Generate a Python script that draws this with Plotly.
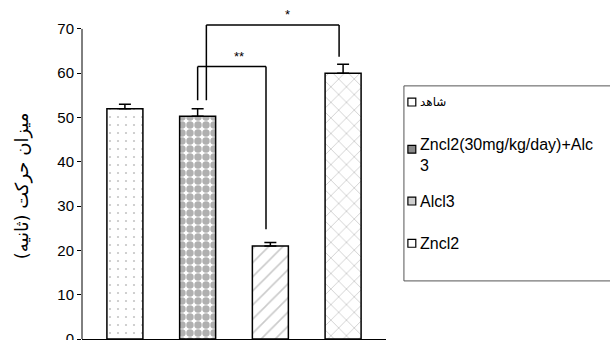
import plotly.graph_objects as go

# Groups, mean movement time (s) and upper error
groups = ["شاهد", "Zncl2(30mg/kg/day)+Alcl3", "Alcl3", "Zncl2"]
means = [52.0, 50.3, 21.0, 60.0]
errors = [1.0, 1.7, 0.8, 2.0]
y_ticks = [0, 10, 20, 30, 40, 50, 60, 70]
y_title = "میزان حرکت (ثانیه)"
legend_labels = ["شاهد", "Zncl2(30mg/kg/day)+Alc<br>3", "Alcl3", "Zncl2"]

# Significance brackets: (left x, right x, left foot, right foot, top, label, label x)
brackets = [
    (1.0, 1.94, 53.9, 24.8, 61.5, "**", 1.57),
    (1.12, 2.945, 53.9, 63.7, 70.9, "*", 2.23),
]

patterns = [
    dict(shape=".", fgcolor="#8a8a8a", bgcolor="white", size=8, solidity=0.06),
    dict(shape=".", fgcolor="#626262", bgcolor="white", size=8, solidity=0.68),
    dict(shape="/", fgcolor="#959595", bgcolor="white", size=10, solidity=0.16),
    dict(shape="x", fgcolor="#9a9a9a", bgcolor="white", size=11, solidity=0.15),
]

fig = go.Figure()
fig.add_trace(go.Bar(
    x=groups,
    y=means,
    width=0.495,
    marker=dict(color="white", line=dict(color="black", width=1.5)),
    error_y=dict(type="data", array=errors, arrayminus=[0] * len(errors),
                 symmetric=False, color="black", thickness=1.5, width=6),
    showlegend=False,
))
# apply a pattern per bar
fig.data[0].marker.pattern = dict(
    shape=[p["shape"] for p in patterns],
    fgcolor=[p["fgcolor"] for p in patterns],
    bgcolor=[p["bgcolor"] for p in patterns],
    size=[p["size"] for p in patterns],
    solidity=[p["solidity"] for p in patterns],
)

shapes = []
annotations = []
line_style = dict(color="black", width=1.5)
for xl, xr, yl, yr, top, label, lx in brackets:
    shapes.append(dict(type="line", xref="x", yref="y", x0=xl, x1=xl, y0=yl, y1=top, line=line_style))
    shapes.append(dict(type="line", xref="x", yref="y", x0=xl, x1=xr, y0=top, y1=top, line=line_style))
    shapes.append(dict(type="line", xref="x", yref="y", x0=xr, x1=xr, y0=top, y1=yr, line=line_style))
    annotations.append(dict(x=lx, y=top + 2.3, xref="x", yref="y", text=label, showarrow=False,
                            font=dict(family="Liberation Sans", size=13, color="black")))

# y axis line from 0 to 70 only
shapes.append(dict(type="line", xref="paper", yref="y", x0=0, x1=0, y0=0, y1=70,
                   line=dict(color="black", width=1)))

# rotated y axis title
annotations.append(dict(x=0, y=34.5, xref="paper", yref="y", xshift=-60, text=y_title,
                        textangle=-90, showarrow=False, xanchor="center", yanchor="middle",
                        font=dict(family="DejaVu Sans", size=18, color="black")))

# custom legend box
shapes.append(dict(type="rect", xref="paper", yref="paper", x0=1.059, x1=1.76, y0=0.176, y1=0.767,
                   line=dict(color="#555555", width=1), fillcolor="rgba(0,0,0,0)"))
legend_y = [0.718, 0.575, 0.418, 0.29]
swatch_fill = ["white", "#8a8a8a", "#cfcfcf", "white"]
for i, (lab, ly, fc) in enumerate(zip(legend_labels, legend_y, swatch_fill)):
    shapes.append(dict(type="rect", xref="paper", yref="paper",
                       x0=1.072, x1=1.098, y0=ly - 0.012, y1=ly + 0.012,
                       line=dict(color="black", width=1.2), fillcolor=fc))
    is_multi = "<br>" in lab
    arabic = i == 0
    annotations.append(dict(
        x=1.106, y=ly + (0.012 if is_multi else 0), xref="paper", yref="paper",
        text=lab, showarrow=False, xanchor="left", yanchor="top" if is_multi else "middle",
        align="left",
        yshift=11 if is_multi else 0,
        font=dict(family="DejaVu Sans" if arabic else "Liberation Sans",
                  size=12 if arabic else 16, color="black"),
    ))

fig.update_layout(
    width=610, height=340,
    margin=dict(l=82, r=224, t=9, b=1, autoexpand=False),
    paper_bgcolor="white", plot_bgcolor="white",
    shapes=shapes, annotations=annotations,
    font=dict(family="Liberation Sans", color="black"),
    xaxis=dict(range=[-0.59, 3.59], showticklabels=False, ticks="", showline=True,
               linecolor="black", linewidth=1, showgrid=False, zeroline=False,
               automargin=False),
    yaxis=dict(range=[0, 74.5], tickvals=y_ticks, ticks="outside", ticklen=4, tickwidth=1,
               tickcolor="black", showline=False, showgrid=False, zeroline=False,
               ticklabeloverflow="allow",
               tickfont=dict(family="Liberation Sans", size=15, color="black"),
               automargin=False),
)

fig.write_html("out.html")
